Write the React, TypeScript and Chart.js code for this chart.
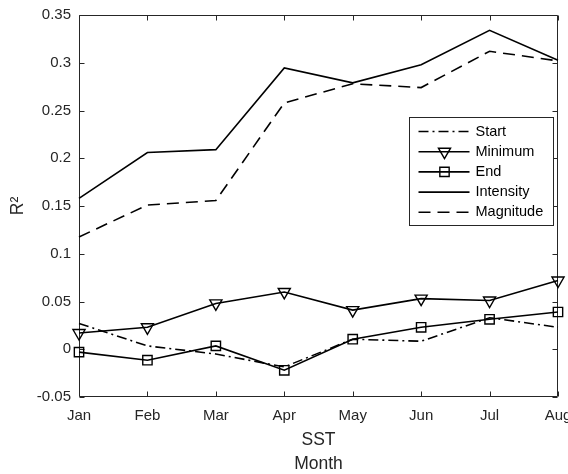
import React, { useEffect, useRef } from 'react';
import { Chart, registerables } from 'chart.js';
Chart.register(...registerables);

const months = ['Jan', 'Feb', 'Mar', 'Apr', 'May', 'Jun', 'Jul', 'Aug'];
const startVals = [0.027, 0.0035, -0.005, -0.0185, 0.0105, 0.0084, 0.033, 0.023];
const minimumVals = [0.017, 0.023, 0.048, 0.06, 0.041, 0.053, 0.051, 0.072];
const endVals = [-0.003, -0.0115, 0.0035, -0.022, 0.0105, 0.023, 0.0314, 0.039];
const intensityVals = [0.158, 0.206, 0.209, 0.2946, 0.279, 0.298, 0.334, 0.3026];
const magnitudeVals = [0.1176, 0.151, 0.1557, 0.258, 0.278, 0.274, 0.312, 0.302];
const seriesNames = ['Start', 'Minimum', 'End', 'Intensity', 'Magnitude'];
const yMin = -0.05;
const yMax = 0.35;
const yStep = 0.05;
const xTitle = ['SST', 'Month'];
const yTitle = 'R²';

const FONT = '"Liberation Sans", Arial, Helvetica, sans-serif';
const AXIS = '#262626';

function drawMarker(ctx: CanvasRenderingContext2D, style: string, x: number, y: number, r: number) {
  ctx.beginPath();
  if (style === 'triangle') {
    const s = Math.sin(Math.PI / 3) * r;
    ctx.moveTo(x, y + r);
    ctx.lineTo(x - s, y - r / 2);
    ctx.lineTo(x + s, y - r / 2);
    ctx.closePath();
  } else if (style === 'rect') {
    const h = Math.SQRT1_2 * r;
    ctx.rect(x - h, y - h, 2 * h, 2 * h);
  }
  ctx.stroke();
}

const axesPlugin = {
  id: 'matlabAxes',
  beforeDatasetsDraw(chart: any) {
    const { ctx, chartArea: ca, scales } = chart;
    const xs = scales.x;
    const ys = scales.y;
    ctx.save();
    ctx.strokeStyle = AXIS;
    ctx.lineWidth = 1;
    ctx.setLineDash([]);
    const L = Math.round(ca.left) + 0.5;
    const R = Math.round(ca.right) - 0.5;
    const T = Math.round(ca.top) + 0.5;
    const B = Math.round(ca.bottom) - 0.5;
    ctx.beginPath();
    ctx.rect(L, T, R - L, B - T);
    ctx.stroke();
    const tl = 5;
    ctx.beginPath();
    xs.ticks.forEach((_: any, i: number) => {
      const x = Math.round(xs.getPixelForTick(i)) + 0.5;
      ctx.moveTo(x, B);
      ctx.lineTo(x, B - tl);
      ctx.moveTo(x, T);
      ctx.lineTo(x, T + tl);
    });
    ys.ticks.forEach((_: any, i: number) => {
      const y = Math.round(ys.getPixelForTick(i)) + 0.5;
      ctx.moveTo(L, y);
      ctx.lineTo(L + tl, y);
      ctx.moveTo(R, y);
      ctx.lineTo(R - tl, y);
    });
    ctx.stroke();
    ctx.restore();
  },
};

const legendPlugin = {
  id: 'matlabLegend',
  afterDatasetsDraw(chart: any) {
    const { ctx, chartArea: ca } = chart;
    const boxW = 144;
    const boxH = 108;
    const bx = Math.round(ca.right - 5 - boxW) + 0.5;
    const by = Math.round(ca.top + 102) + 0.5;
    ctx.save();
    ctx.fillStyle = '#ffffff';
    ctx.fillRect(bx, by, boxW, boxH);
    ctx.strokeStyle = AXIS;
    ctx.lineWidth = 1;
    ctx.setLineDash([]);
    ctx.strokeRect(bx, by, boxW, boxH);
    chart.data.datasets.forEach((ds: any, i: number) => {
      const y = by + 14 + i * 20.2;
      ctx.strokeStyle = ds.borderColor;
      ctx.lineWidth = ds.borderWidth;
      ctx.setLineDash(ds.borderDash || []);
      ctx.beginPath();
      ctx.moveTo(bx + 9, y);
      ctx.lineTo(bx + 60, y);
      ctx.stroke();
      ctx.setLineDash([]);
      if (ds.pointRadius > 0) {
        ctx.lineWidth = ds.pointBorderWidth;
        drawMarker(ctx, ds.pointStyle, bx + 35, y, ds.pointRadius);
      }
      ctx.fillStyle = '#000000';
      ctx.font = `14.5px ${FONT}`;
      ctx.textBaseline = 'middle';
      ctx.textAlign = 'left';
      ctx.fillText(seriesNames[i], bx + 66, y);
    });
    ctx.restore();
  },
};

export default function App() {
  const ref = useRef<HTMLCanvasElement>(null);
  useEffect(() => {
    document.body.style.margin = '0';
    const base = {
      borderColor: '#000000',
      borderWidth: 1.6,
      tension: 0,
      fill: false,
      clip: false as any,
      pointBackgroundColor: 'rgba(0,0,0,0)',
      pointBorderColor: '#000000',
      pointBorderWidth: 1.4,
    };
    const chart = new Chart(ref.current as HTMLCanvasElement, {
      type: 'line',
      data: {
        labels: months,
        datasets: [
          { ...base, label: seriesNames[0], data: startVals, borderDash: [10, 4, 2, 4], pointRadius: 0 },
          { ...base, label: seriesNames[1], data: minimumVals, pointStyle: 'triangle', pointRadius: 7, pointRotation: 180 },
          { ...base, label: seriesNames[2], data: endVals, pointStyle: 'rect', pointRadius: 6.6 },
          { ...base, label: seriesNames[3], data: intensityVals, pointRadius: 0 },
          { ...base, label: seriesNames[4], data: magnitudeVals, borderDash: [12, 7], pointRadius: 0 },
        ] as any,
      },
      options: {
        responsive: false,
        animation: false,
        events: [],
        layout: { padding: { top: 15, right: 10, left: 0, bottom: 0 } },
        plugins: { legend: { display: false }, tooltip: { enabled: false } },
        scales: {
          x: {
            type: 'category',
            offset: false,
            grid: { display: false, drawTicks: false },
            border: { display: false },
            ticks: { color: AXIS, font: { family: FONT, size: 15 }, padding: 10, maxRotation: 0, autoSkip: false },
            title: {
              display: true,
              text: xTitle,
              color: AXIS,
              font: { family: FONT, size: 17.5, lineHeight: '24px' },
              padding: { top: 0, bottom: -2 },
            },
            afterFit(scale: any) {
              scale.height = 77;
              scale.paddingLeft = 0;
              scale.paddingRight = 0;
            },
          } as any,
          y: {
            min: yMin,
            max: yMax,
            grid: { display: false, drawTicks: false },
            border: { display: false },
            ticks: {
              stepSize: yStep,
              color: AXIS,
              font: { family: FONT, size: 15 },
              padding: 8,
              callback: (v: any) => String(parseFloat(Number(v).toFixed(2))),
            },
            title: {
              display: true,
              text: yTitle,
              color: AXIS,
              font: { family: FONT, size: 17.5 },
              padding: { top: 8, bottom: 0 },
            },
            afterFit(scale: any) {
              scale.width = 79;
              scale.paddingTop = 0;
              scale.paddingBottom = 0;
            },
          } as any,
        },
      },
      plugins: [axesPlugin, legendPlugin],
    });
    return () => chart.destroy();
  }, []);
  return (
    <div style={{ width: 568, height: 474 }}>
      <canvas ref={ref} width={568} height={474} style={{ display: 'block' }} />
    </div>
  );
}
